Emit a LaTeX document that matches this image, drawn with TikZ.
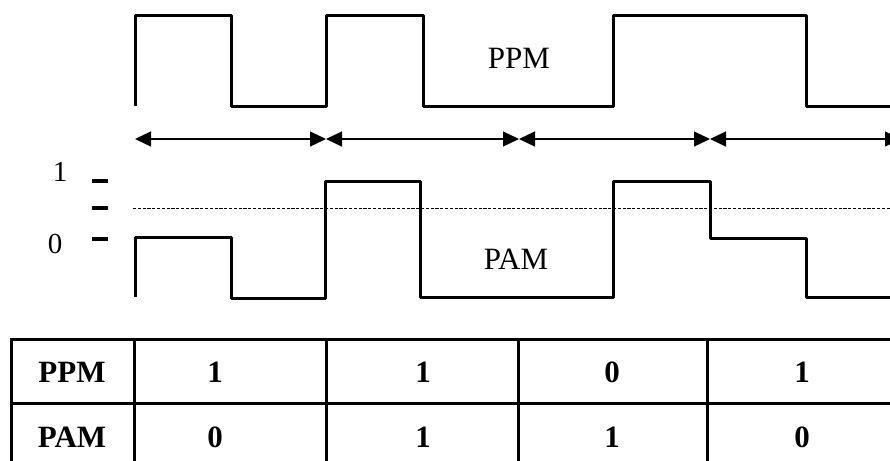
\documentclass[tikz,border=0pt]{standalone}
\usepackage{fontspec}
\setmainfont{Liberation Serif}
\usetikzlibrary{arrows.meta}

\begin{document}
\begin{tikzpicture}[x=0.5pt,y=-0.5pt,
    pulse/.style    = {line width=1.5pt, line join=round},
    slotarrow/.style= {line width=0.6pt, {Triangle[length=8pt,width=7.5pt]}-{Triangle[length=8pt,width=7.5pt]}},
    levelmark/.style= {line width=1.6pt},
    midline/.style  = {line width=0.3pt, dash pattern=on 1.6pt off 0.8pt},
    tablerule/.style= {line width=1.5pt},
    wavelabel/.style= {font=\fontsize{15.5}{18}\selectfont, inner sep=0pt},
    cell/.style     = {font=\fontsize{15.5}{18}\selectfont\bfseries, inner sep=0pt}]
  \useasboundingbox (0,0) rectangle (890,461);
  \clip (0,0) rectangle (890,461);

  % PPM waveform
  \draw[pulse] (135,106) -- (135,15) -- (231,15) -- (231,106) -- (326,106) -- (326,15)
    -- (423,15) -- (423,106) -- (613,106) -- (613,15) -- (806,15) -- (806,106) -- (890,106);
  \node[wavelabel] (ppmlabel) at (519,58) {PPM};

  % symbol slots
  \foreach \name/\x in {s0/135, s1/326, s2/519, s3/710, s4/901}
    \coordinate (\name) at (\x,139);
  \foreach \a/\b in {s0/s1, s1/s2, s2/s3, s3/s4}
    \draw[slotarrow] (\a) -- (\b);

  % amplitude levels
  \node[wavelabel, font=\fontsize{14.5}{16}\selectfont] (one) at (60,172) {1};
  \node[wavelabel, font=\fontsize{14.5}{16}\selectfont] (zero) at (55,244) {0};
  \foreach \y in {181, 208, 239}
    \draw[levelmark] (92,\y) -- (108,\y);
  \draw[midline] (133,208) -- (890,208);

  % PAM waveform
  \draw[pulse] (135,297) -- (135,237) -- (231,237) -- (231,298) -- (325,298) -- (325,181)
    -- (420,181) -- (420,297) -- (613,297) -- (613,181) -- (710,181) -- (710,238)
    -- (806,238) -- (806,297) -- (890,297);
  \node[wavelabel] (pamlabel) at (516,259) {PAM};

  % table
  \draw[tablerule] (11,461) -- (11,339) -- (892,339);
  \draw[tablerule] (11,403) -- (892,403);
  \foreach \x in {134, 326, 518, 707}
    \draw[tablerule] (\x,339) -- (\x,462);
  \node[cell] (rowppm) at (72,372) {PPM};
  \node[cell] (rowpam) at (72,437) {PAM};
  \foreach \x/\p/\q [count=\i] in {215/1/0, 423/1/1, 612/0/1, 802/1/0} {
    \node[cell] (ppm\i) at (\x,372) {\p};
    \node[cell] (pam\i) at (\x,437) {\q};
  }
\end{tikzpicture}
\end{document}
